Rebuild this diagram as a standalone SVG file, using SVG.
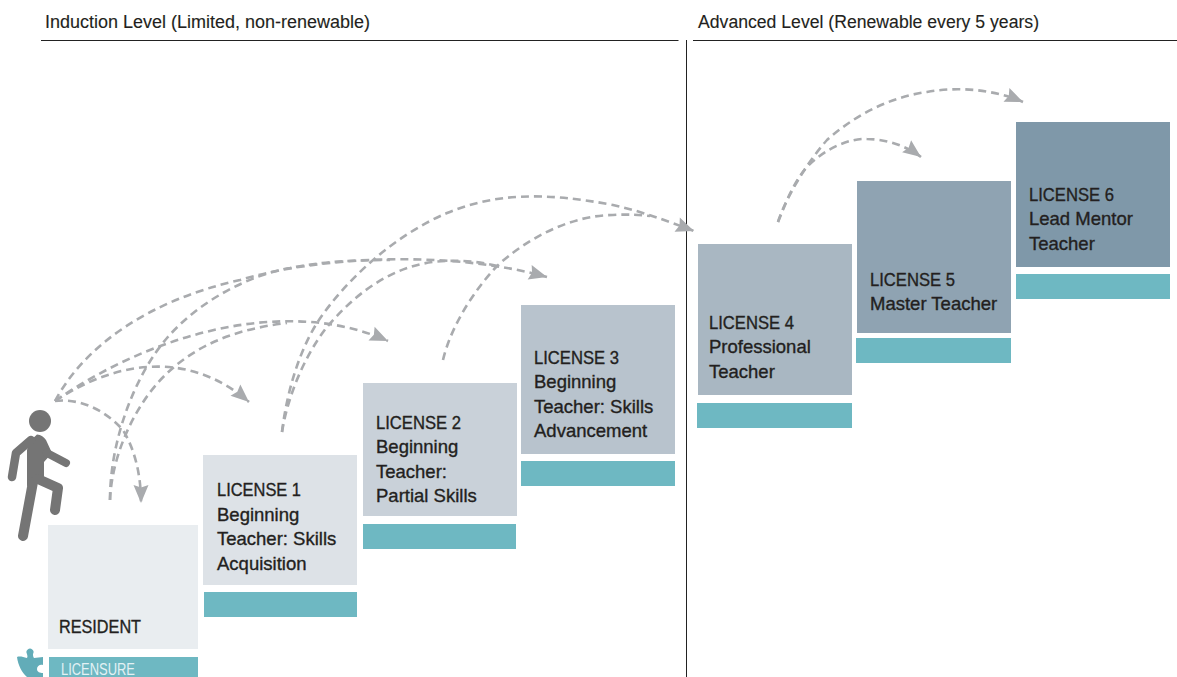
<svg xmlns="http://www.w3.org/2000/svg" width="1177" height="677" viewBox="0 0 1177 677">
<style>
text{font-family:"Liberation Sans",Arial,sans-serif;fill:#231f20}
.h{font-size:17.5px;stroke:#231f20;stroke-width:.12}
.n{font-size:18.5px;stroke:#231f20;stroke-width:.35;transform:translateY(.7px)}
.t{fill:#6eb8c2}
.a{fill:none;stroke:#a9abae;stroke-width:2.6;stroke-dasharray:8 5}
.e{marker-end:url(#ah)}
.r{fill:none;stroke:#222;stroke-width:1}
.p{fill:none;stroke:#757575;stroke-linecap:round;stroke-linejoin:round}
</style>
<defs><marker id="ah" markerUnits="userSpaceOnUse" markerWidth="20" markerHeight="16" refX="18" refY="7.500" orient="auto" overflow="visible"><path d="M0 0L18 7.500L0 15L2.500 7.500Z" fill="#a9abae"/></marker></defs>
<rect width="1177" height="677" fill="#fff"/>
<g id="headers">
<text class="h" x="45" y="28" textLength="325" lengthAdjust="spacingAndGlyphs">Induction Level (Limited, non-renewable)</text>
<text class="h" x="698" y="28" textLength="341" lengthAdjust="spacingAndGlyphs">Advanced Level (Renewable every 5 years)</text>
<path class="r" d="M41 40.500H678.500M693 40.500H1177M686.500 40V677"/>
</g>
<g id="connectors">
<path class="a e" d="M55 401C80 398 105 410 123 430C135 450 141 475 141 503"/>
<path class="a e" d="M55 401C125 355 195 355 249 402"/>
<path class="a e" d="M55 401C150 335 285 295 388 341"/>
<path class="a e" d="M55 401C85 345 150 300 240 280C320 256 450 250 547 277"/>
<path class="a" d="M110 500C110 440 135 375 167 338C200 300 250 275 290 268C320 262 350 260 390 260"/>
<path class="a" d="M110 500C112 450 140 395 173 368C205 340 245 328 287 323"/>
<path class="a e" d="M282 432C287 390 300 350 317 323C345 280 395 235 447 213C495 193 545 192 613 205C640 211 665 220 694 231"/>
<path class="a" d="M282 432C288 395 305 355 327 327C350 300 390 262 447 261C465 260 480 262 497 266"/>
<path class="a" d="M443 360C450 330 470 295 497 266C525 240 570 215 613 215C630 214 640 215 650 216"/>
<path class="a e" d="M778 222C785 200 805 165 827 140C855 115 890 97 927 92C960 86 995 90 1023 102"/>
<path class="a e" d="M778 222C785 205 792 185 806 168C825 148 850 138 867 139C885 139 905 145 921 157"/>
</g>
<g id="person">
<circle cx="40" cy="421" r="11" fill="#757575"/>
<path d="M37 434.500C41 434.500 44 437 46 440L52 453L44 462L44 482L27 486V450L30 441Z" fill="#757575"/>
<path class="p" stroke-width="8.500" d="M31 440L16 453L12 477"/>
<path class="p" stroke-width="8" d="M47 453L66 463"/>
<path class="p" stroke-width="10" d="M33 482L23 536"/>
<path class="p" stroke-width="10" d="M38 479L58 488L55 510"/>
</g>
<g id="resident">
<rect x="48" y="525" width="150" height="124" fill="#e9edf0"/>
<text class="n" x="59" y="632" textLength="82" lengthAdjust="spacingAndGlyphs">RESIDENT</text>
<path d="M17 657C20 656 23 657 27 658C28 656 27 655 27 654A3.500 3.500 0 1 1 33 654C33 655 33 657 34 658L43 657V665C40 664 37 666 37 669C37 672 40 673 43 673V677H27C22 673 18 665 17 657Z" fill="#62acb8"/>
<rect class="t" x="49" y="657" width="149" height="20"/>
<text x="61" y="675" font-size="17" style="fill:#e3f1f4" textLength="74" lengthAdjust="spacingAndGlyphs">LICENSURE</text>
</g>
<g id="license1">
<rect x="203" y="455" width="154" height="130" fill="#dde2e7"/>
<rect class="t" x="204" y="592" width="153" height="25"/>
<text class="n"><tspan x="217" y="495" textLength="84" lengthAdjust="spacingAndGlyphs">LICENSE 1</tspan><tspan x="217" y="520">Beginning</tspan><tspan x="217" y="544">Teacher: Skills</tspan><tspan x="217" y="569">Acquisition</tspan></text>
</g>
<g id="license2">
<rect x="363" y="383" width="154" height="133" fill="#c9d1d9"/>
<rect class="t" x="363" y="524" width="153" height="25"/>
<text class="n"><tspan x="376" y="428" textLength="85" lengthAdjust="spacingAndGlyphs">LICENSE 2</tspan><tspan x="376" y="452">Beginning</tspan><tspan x="376" y="477">Teacher:</tspan><tspan x="376" y="501">Partial Skills</tspan></text>
</g>
<g id="license3">
<rect x="521" y="305" width="154" height="149" fill="#b8c3cd"/>
<rect class="t" x="521" y="461" width="154" height="25"/>
<text class="n"><tspan x="534" y="363" textLength="85" lengthAdjust="spacingAndGlyphs">LICENSE 3</tspan><tspan x="534" y="387">Beginning</tspan><tspan x="534" y="412">Teacher: Skills</tspan><tspan x="534" y="436">Advancement</tspan></text>
</g>
<g id="license4">
<rect x="698" y="244" width="154" height="151" fill="#a9b7c2"/>
<rect class="t" x="697" y="403" width="155" height="25"/>
<text class="n"><tspan x="709" y="328" textLength="85" lengthAdjust="spacingAndGlyphs">LICENSE 4</tspan><tspan x="709" y="352">Professional</tspan><tspan x="709" y="377">Teacher</tspan></text>
</g>
<g id="license5">
<rect x="857" y="181" width="154" height="152" fill="#8fa3b2"/>
<rect class="t" x="856" y="338" width="155" height="25"/>
<text class="n"><tspan x="870" y="285" textLength="85" lengthAdjust="spacingAndGlyphs">LICENSE 5</tspan><tspan x="870" y="309">Master Teacher</tspan></text>
</g>
<g id="license6">
<rect x="1016" y="122" width="154" height="145" fill="#7f98a9"/>
<rect class="t" x="1016" y="274" width="154" height="25"/>
<text class="n"><tspan x="1029" y="200" textLength="85" lengthAdjust="spacingAndGlyphs">LICENSE 6</tspan><tspan x="1029" y="224">Lead Mentor</tspan><tspan x="1029" y="249">Teacher</tspan></text>
</g>
</svg>
